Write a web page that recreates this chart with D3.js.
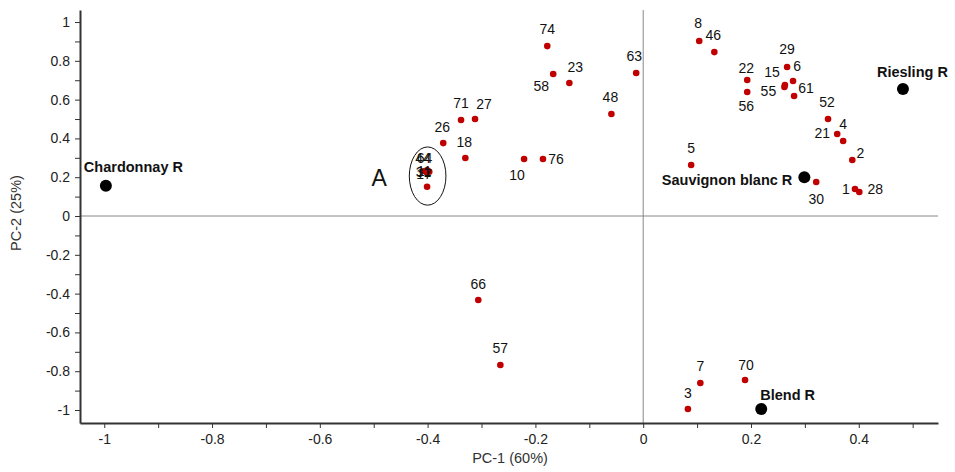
<!DOCTYPE html>
<html>
<head>
<meta charset="utf-8">
<script src="https://cdn.jsdelivr.net/npm/d3@7"></script>
<style>
  body { margin: 0; background: #fff; }
  svg { font-family: "Liberation Sans", Arial, sans-serif; }
</style>
</head>
<body>
<svg width="955" height="472"></svg>
<script>
// wine samples (PCA scores)
const sampleNames = ['74','58','23','63','48','71','27','26','18','10','76',
  '8','46','22','56','29','6','15','55','61','52','21','4','2','5','30','1','28',
  '66','57','7','70','3',
  '64','44','11','31','17'];
const samplePC1 = [-0.178,-0.167,-0.137,-0.013,-0.059,-0.338,-0.312,-0.371,-0.330,-0.221,-0.186,
  0.104,0.132,0.193,0.193,0.267,0.278,0.263,0.262,0.280,0.343,0.360,0.371,0.388,0.089,0.321,0.393,0.401,
  -0.306,-0.265,0.106,0.189,0.083,
  -0.400,-0.405,-0.397,-0.402,-0.401];
const samplePC2 = [0.876,0.732,0.686,0.737,0.526,0.495,0.500,0.376,0.299,0.294,0.294,
  0.902,0.845,0.701,0.639,0.768,0.696,0.675,0.665,0.619,0.500,0.423,0.387,0.289,0.263,0.175,0.139,0.124,
  -0.433,-0.768,-0.861,-0.845,-0.995,
  0.235,0.232,0.228,0.225,0.151];

// reference wines
const refNames = ['Chardonnay R','Riesling R','Sauvignon blanc R','Blend R'];
const refPC1 = [-0.997, 0.482, 0.299, 0.219];
const refPC2 = [0.156, 0.655, 0.200, -0.995];

// tick values
const xTicks = d3.range(-10, 6).map(i => i / 10);
const yTicks = d3.range(-10, 11).map(i => i / 10);

// label placement (pixel offset of label centre from its dot)
const labelOffset = {
  '74':[0,-17], '58':[-12,12], '23':[6,-16], '63':[-2,-17], '48':[-1,-17],
  '71':[0,-17], '27':[9,-15], '26':[-1,-16], '18':[-1,-16], '10':[-7,16], '76':[13,0],
  '8':[-1,-18], '46':[-1,-17], '22':[-1,-12], '56':[-1,14], '29':[0,-18], '6':[4,-15],
  '15':[-13,-13], '55':[-16,4], '61':[12,-8], '52':[-1,-17], '21':[-15,-1], '4':[0,-17],
  '2':[8,-7], '5':[0,-17], '30':[0,17], '1':[-9,0], '28':[16,-3],
  '66':[0,-16], '57':[0,-17], '7':[0,-17], '70':[1,-15], '3':[0,-16],
  '64':[-3,-12], '44':[-2,-13], '11':[-5,-1], '31':[-3,0], '17':[-3,-13]
};
const refLabel = [
  {anchor:'start', dx:-22, dy:-19},
  {anchor:'start', dx:-26, dy:-17},
  {anchor:'end', dx:-12, dy:3},
  {anchor:'start', dx:-1, dy:-14}
];

const svg = d3.select('svg');
const margin = {left: 80, right: 17, top: 10, bottom: 49};
const width = 955, height = 472;

const x = d3.scaleLinear()
  .domain([-1.045, 0.547])
  .range([margin.left, width - margin.right]);
const y = d3.scaleLinear()
  .domain([-1.067, 1.062])
  .range([height - margin.bottom, margin.top]);

const fmt = d => (Math.round(d * 10) % 2 === 0) ? String(+d.toFixed(1)) : '';

// zero lines
svg.append('line')
  .attr('x1', x(0)).attr('x2', x(0))
  .attr('y1', y.range()[1]).attr('y2', y.range()[0])
  .attr('stroke', '#888').attr('stroke-width', 1);
svg.append('line')
  .attr('x1', x.range()[0]).attr('x2', x.range()[1])
  .attr('y1', y(0)).attr('y2', y(0))
  .attr('stroke', '#888').attr('stroke-width', 1);

// axes
const xAxis = svg.append('g')
  .attr('transform', `translate(0,${y.range()[0]})`)
  .call(d3.axisBottom(x).tickValues(xTicks).tickFormat(fmt).tickSize(5).tickSizeOuter(0).tickPadding(6));
const yAxis = svg.append('g')
  .attr('transform', `translate(${x.range()[0]},0)`)
  .call(d3.axisLeft(y).tickValues(yTicks).tickFormat(fmt).tickSize(5).tickSizeOuter(0).tickPadding(5));

[xAxis, yAxis].forEach(g => {
  g.select('.domain').attr('stroke', '#333').attr('stroke-width', 2);
  g.selectAll('.tick line').attr('stroke', '#333');
  g.selectAll('.tick text').attr('fill', '#222').style('font-size', '14px')
    .style('font-family', '"Liberation Sans", Arial, sans-serif');
});

svg.append('text')
  .attr('x', 510).attr('y', 463)
  .attr('text-anchor', 'middle')
  .attr('fill', '#333').style('font-size', '14.5px')
  .text('PC-1 (60%)');
svg.append('text')
  .attr('transform', 'translate(21,213) rotate(-90)')
  .attr('text-anchor', 'middle')
  .attr('fill', '#333').style('font-size', '14.5px')
  .text('PC-2 (25%)');

// group A ellipse and label
svg.append('ellipse')
  .attr('cx', x(-0.400)).attr('cy', y(0.206))
  .attr('rx', x(0.034) - x(0)).attr('ry', y(0) - y(0.150))
  .attr('fill', 'none').attr('stroke', '#111').attr('stroke-width', 1);
svg.append('text')
  .attr('x', x(-0.49)).attr('y', y(0.196))
  .attr('text-anchor', 'middle').attr('dominant-baseline', 'central')
  .style('font-size', '23px').attr('fill', '#111')
  .text('A');

const samples = sampleNames.map((n, i) => ({name: n, pc1: samplePC1[i], pc2: samplePC2[i]}));
const refs = refNames.map((n, i) => ({name: n, pc1: refPC1[i], pc2: refPC2[i], lab: refLabel[i]}));

// sample dots
svg.append('g')
  .selectAll('circle').data(samples).enter().append('circle')
  .attr('cx', d => x(d.pc1))
  .attr('cy', d => y(d.pc2))
  .attr('r', 3.3)
  .attr('fill', '#c00000');

// sample labels
svg.append('g')
  .selectAll('text').data(samples).enter().append('text')
  .attr('x', d => x(d.pc1) + labelOffset[d.name][0])
  .attr('y', d => y(d.pc2) + labelOffset[d.name][1])
  .attr('text-anchor', 'middle')
  .attr('dominant-baseline', 'central')
  .attr('fill', '#111')
  .style('font-size', '14px')
  .text(d => d.name);

// reference dots and labels
svg.append('g')
  .selectAll('circle').data(refs).enter().append('circle')
  .attr('cx', d => x(d.pc1))
  .attr('cy', d => y(d.pc2))
  .attr('r', 6)
  .attr('fill', '#000');

svg.append('g')
  .selectAll('text').data(refs).enter().append('text')
  .attr('x', d => x(d.pc1) + d.lab.dx)
  .attr('y', d => y(d.pc2) + d.lab.dy)
  .attr('text-anchor', d => d.lab.anchor)
  .attr('dominant-baseline', 'central')
  .attr('fill', '#111')
  .style('font-size', '14.5px')
  .style('font-weight', 'bold')
  .text(d => d.name);
</script>
</body>
</html>
